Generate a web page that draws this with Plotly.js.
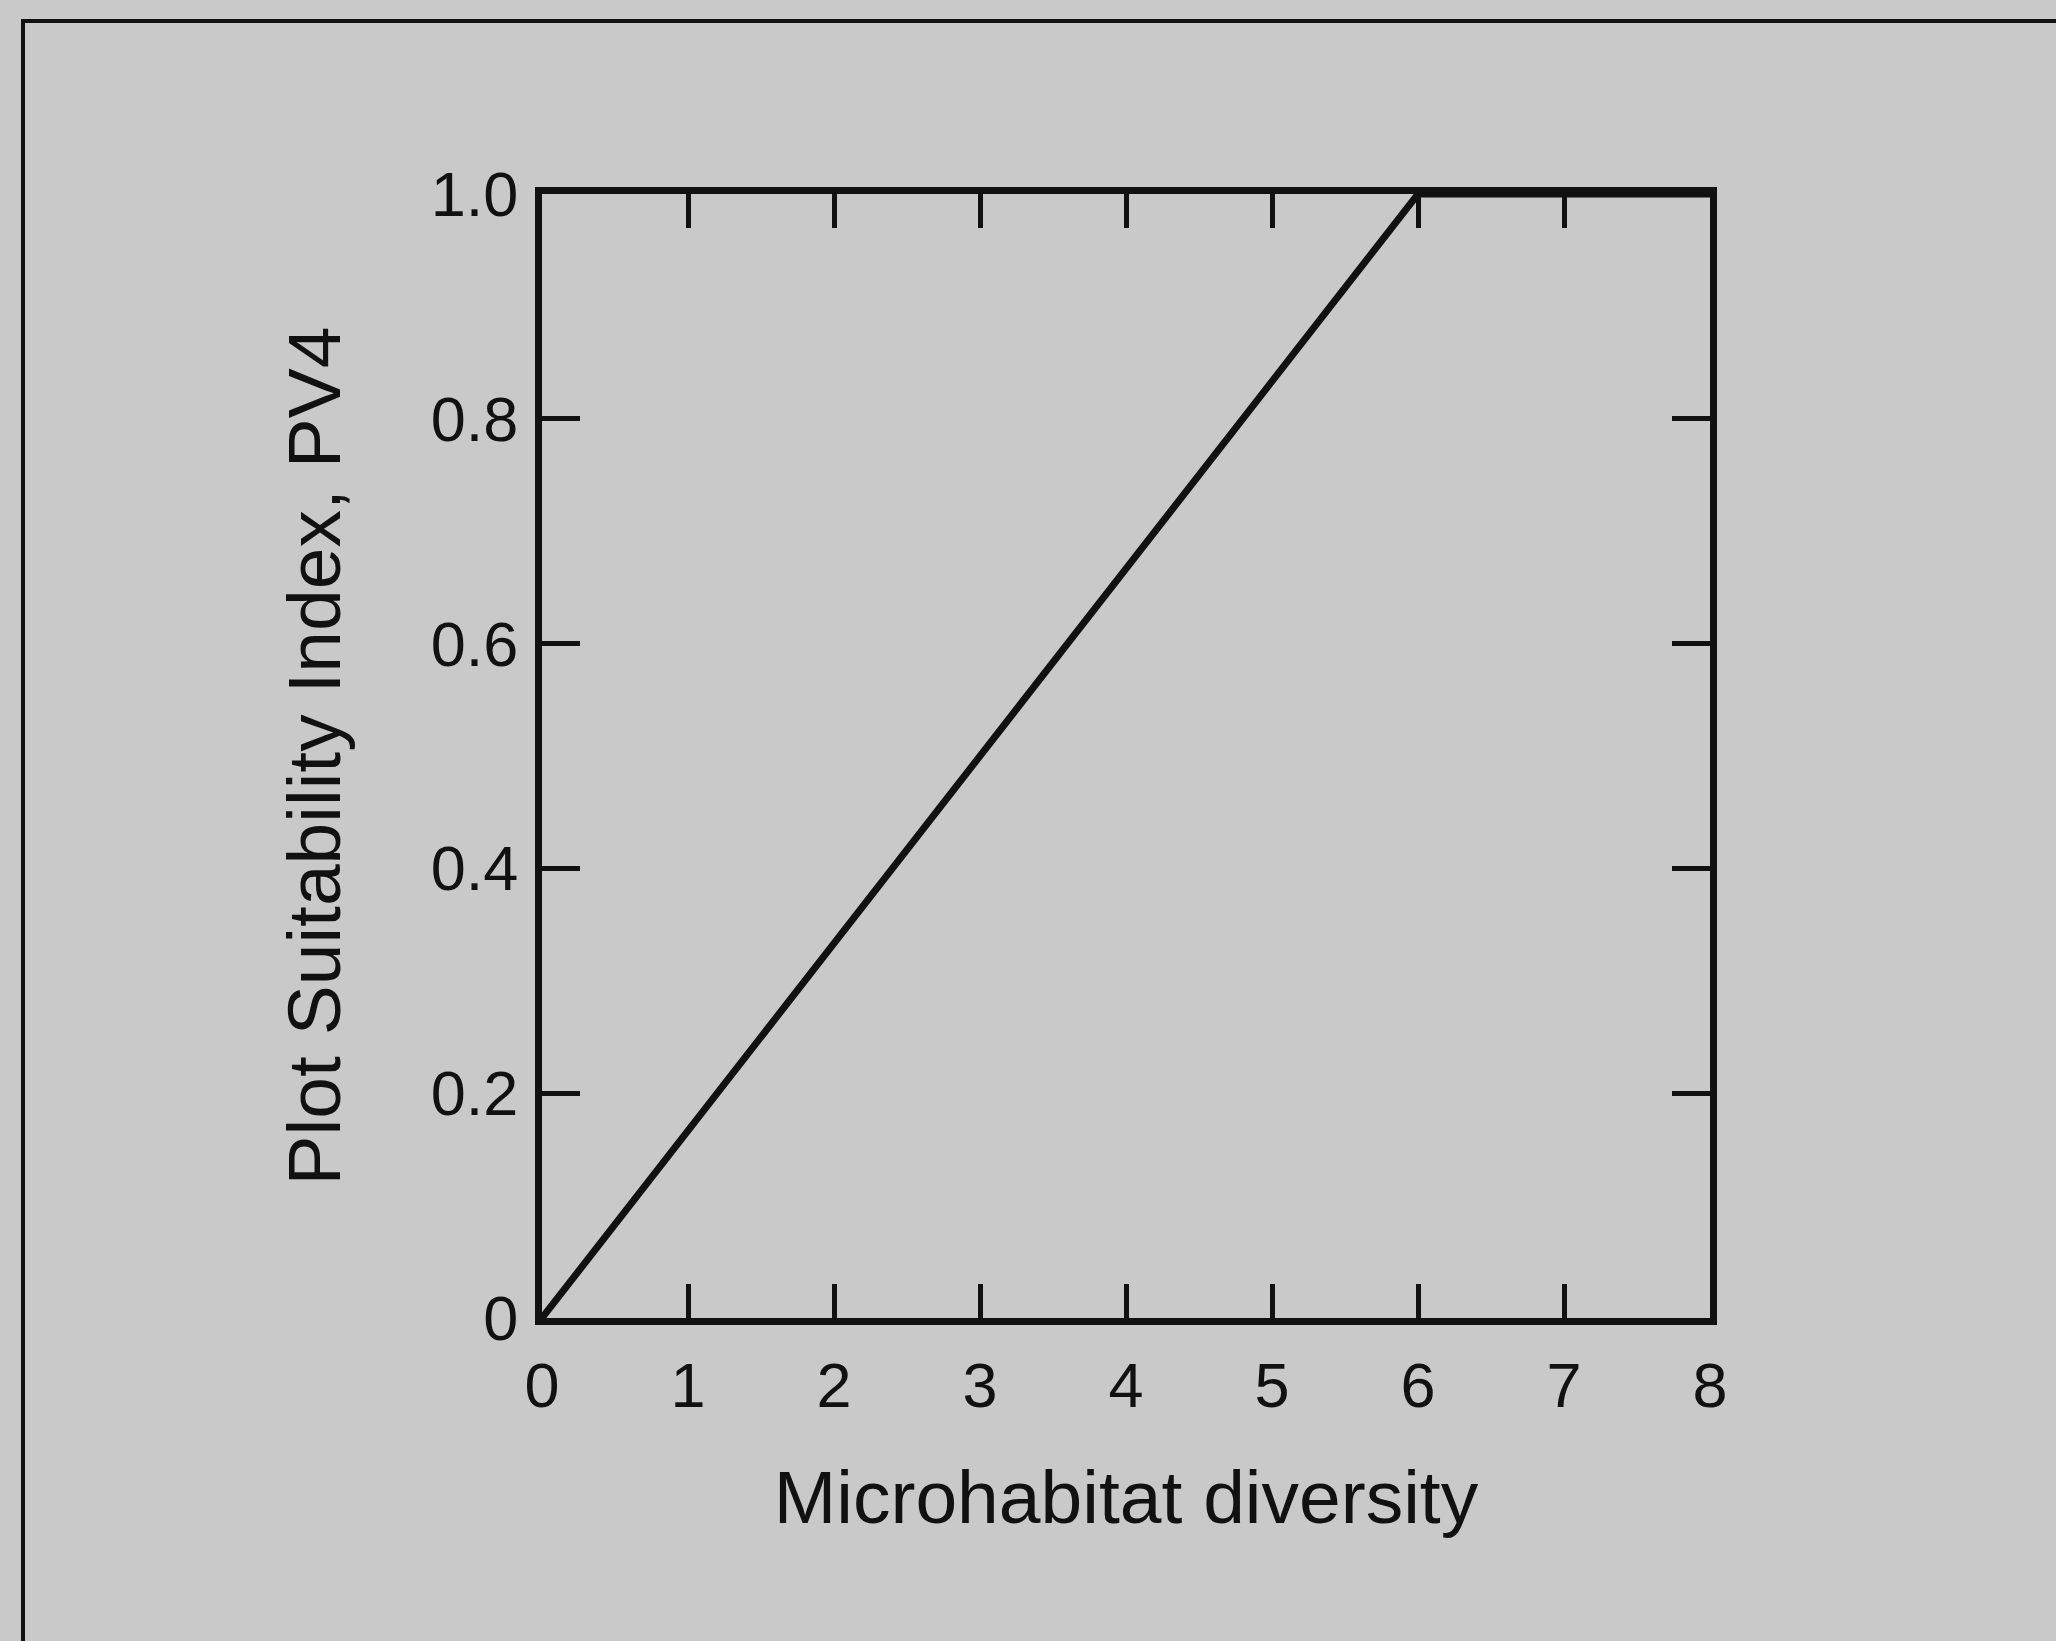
<!DOCTYPE html>
<html>
<head>
<meta charset="utf-8">
<script src="https://cdn.plot.ly/plotly-3.0.1.min.js"></script>
<style>html,body{margin:0;padding:0;background:#c9c9c9;}</style>
</head>
<body>
<div id="chart" style="width:2056px;height:1641px;"></div>
<script>
// Data
const diversity = [0, 6, 8];
const suitability = [0, 1.0, 1.0];
const xTickVals = [0, 1, 2, 3, 4, 5, 6, 7, 8];
const xTickText = ["0", "1", "2", "3", "4", "5", "6", "7", "8"];
const yTickVals = [0, 0.2, 0.4, 0.6, 0.8, 1.0];
const yTickText = ["0", "0.2", "0.4", "0.6", "0.8", "1.0"];
const xTitle = "Microhabitat diversity";
const yTitle = "Plot Suitability Index, PV4";

const font = "'Liberation Sans', Arial, Helvetica, sans-serif";
const bg = "#c9c9c9";

const trace = {
  x: diversity,
  y: suitability,
  mode: "lines",
  line: {color: "#111111", width: 7},
  hoverinfo: "skip",
  showlegend: false,
  cliponaxis: false
};

const L = 542, R = 346, T = 194, B = 323;
const W = 2056, H = 1641;
const pw = W - L - R, ph = H - T - B;

const layout = {
  width: W,
  height: H,
  margin: {l: L, r: R, t: T, b: B, pad: 0},
  paper_bgcolor: bg,
  plot_bgcolor: bg,
  font: {family: font, color: "#111111", size: 63},
  xaxis: {
    range: [0, 8],
    tickmode: "array",
    tickvals: xTickVals,
    ticktext: xTickText,
    ticks: "inside",
    ticklen: 34,
    tickwidth: 5,
    tickcolor: "#111111",
    showline: true,
    linewidth: 7,
    linecolor: "#111111",
    mirror: "ticks",
    showgrid: false,
    zeroline: false,
    ticklabelstandoff: 6,
    tickfont: {family: font, size: 63, color: "#111111"},
    title: {text: xTitle, font: {family: font, size: 75, color: "#111111"}, standoff: 54},
    automargin: false
  },
  yaxis: {
    range: [0, 1.0],
    tickmode: "array",
    tickvals: yTickVals,
    ticktext: yTickText,
    ticks: "inside",
    ticklen: 38,
    tickwidth: 5,
    tickcolor: "#111111",
    showline: true,
    linewidth: 7,
    linecolor: "#111111",
    mirror: "ticks",
    showgrid: false,
    zeroline: false,
    ticklabelstandoff: 4,
    tickfont: {family: font, size: 63, color: "#111111"},
    title: {text: yTitle, font: {family: font, size: 75, color: "#111111"}, standoff: 68},
    automargin: false
  },
  shapes: [
    {
      type: "rect",
      xref: "paper", yref: "paper",
      x0: (23 - L) / pw, x1: (2080 - L) / pw,
      y0: ((H - B) - 1680) / ph, y1: ((H - B) - 21) / ph,
      line: {color: "#111111", width: 4},
      fillcolor: "rgba(0,0,0,0)",
      layer: "below"
    }
  ]
};

Plotly.newPlot("chart", [trace], layout, {staticPlot: true, displayModeBar: false});
</script>
</body>
</html>
